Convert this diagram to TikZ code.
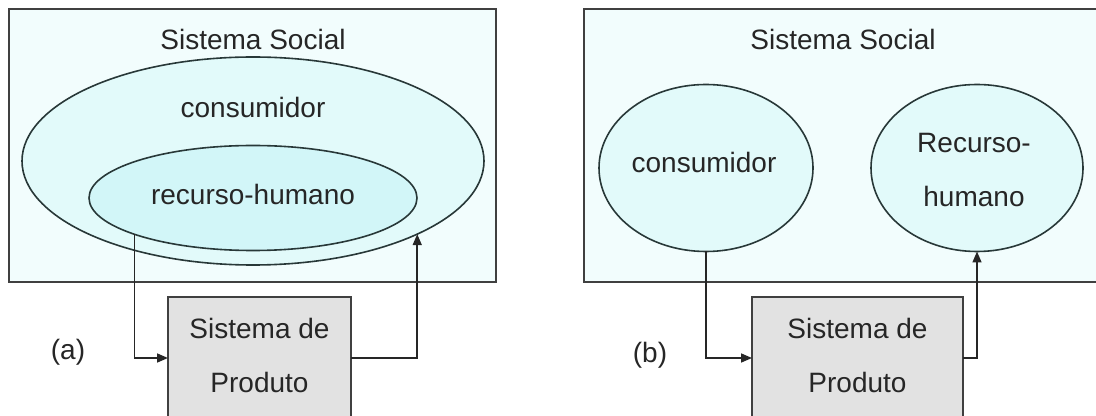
\documentclass[tikz,border=0pt]{standalone}
\usepackage{fontspec}
\setmainfont{Liberation Sans}
\usepackage{tikz}
\usetikzlibrary{arrows.meta, shapes.geometric}
\definecolor{sysbg}{HTML}{F2FDFD}
\definecolor{ovalfill}{HTML}{E2FAFA}
\definecolor{innerfill}{HTML}{D2F6F8}
\definecolor{ovalline}{HTML}{283838}
\definecolor{prodfill}{HTML}{E2E2E2}

\begin{document}
\begin{tikzpicture}[x=0.5pt, y=-0.5pt,
  every node/.style={font=\fontsize{14}{17}\selectfont, text=black!85},
  sysbox/.style={draw=black!75, line width=0.9pt, fill=sysbg},
  oval/.style={ellipse, draw=ovalline, line width=0.8pt, fill=ovalfill, inner sep=0pt, outer sep=0pt},
  prodbox/.style={rectangle, draw=black!75, line width=0.9pt, fill=prodfill, inner sep=0pt, outer sep=0pt},
  flow/.style={draw=black!85, line width=0.8pt, -{Triangle[length=5.5pt, width=4.5pt]}},
  txt/.style={anchor=base}]
\pgfmathsetmacro{\arrowY}{358}
\useasboundingbox (0,0) rectangle (1096,416);
\clip (0,0) rectangle (1096,416);

%.... (a)
\draw[sysbox] (9,9) rectangle (496,282);
\node[txt] (titleA) at (253,50) {Sistema Social};
\node[oval, minimum width=231pt, minimum height=104pt] (conA) at (253,161) {};
\node[oval, fill=innerfill, minimum width=164pt, minimum height=52.5pt] (humA) at (253,198) {};
\node[txt] (conAtxt) at (253,118) {consumidor};
\node[txt] (humAtxt) at (253,205) {recurso-humano};
\node[prodbox, minimum width=91.5pt, minimum height=61pt] (prodA) at (259.5,\arrowY) {};
\node[txt] (prodAtop) at (259.5,338) {Sistema de};
\node[txt] (prodAbot) at (259.5,392) {Produto};
\node[txt] (labA) at (68,359) {(a)};
\draw[flow] (humA.197.7) |- (prodA.west);
\draw[flow] (prodA.east) -| (conA.-24.4);

%.... (b)
\draw[sysbox] (584,9) rectangle (1102,282);
\node[txt] (titleB) at (843,50) {Sistema Social};
\node[oval, minimum width=107pt, minimum height=83.5pt] (conB) at (706,168) {};
\node[oval, minimum width=106pt, minimum height=83.5pt] (recB) at (977,168) {};
\node[txt] (conBtxt) at (704,173) {consumidor};
\node[txt] (recBtop) at (974,153) {Recurso-};
\node[txt] (recBbot) at (974,207) {humano};
\node[prodbox, minimum width=105.5pt, minimum height=61pt] (prodB) at (857.5,\arrowY) {};
\node[txt] (prodBtop) at (857.5,338) {Sistema de};
\node[txt] (prodBbot) at (857.5,392) {Produto};
\node[txt] (labB) at (650,362) {(b)};
\draw[flow] (conB.south) |- (prodB.west);
\draw[flow] (prodB.east) -| (recB.south);
\end{tikzpicture}
\end{document}
